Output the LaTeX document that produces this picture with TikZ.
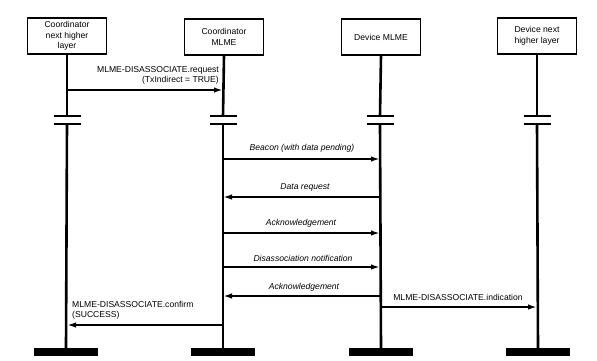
\documentclass[tikz,border=0pt]{standalone}
\usepackage{fontspec}
\setmainfont{Liberation Sans}
\usetikzlibrary{arrows.meta}
\begin{document}
\begin{tikzpicture}[x=1pt,y=-1pt,
  entity/.style={draw, line width=1.4pt, minimum width=79pt, minimum height=36pt, align=center,
    font=\fontsize{8.6}{10.5}\selectfont, inner sep=1pt, fill=white},
  life/.style={line width=2.6pt},
  brk/.style={line width=2.4pt},
  msg/.style={line width=1.8pt, -{Latex[length=9pt,width=5.5pt]}},
  lbl/.style={font=\fontsize{8.6}{10}\selectfont, inner sep=0pt},
  ilbl/.style={font=\fontsize{8.6}{10}\selectfont\itshape, inner sep=0pt},
  foot/.style={fill=black, minimum width=64pt, minimum height=8pt, inner sep=0pt}]
\useasboundingbox (0,0) rectangle (597,360);
\fill[white] (0,0) rectangle (597,360);

% entities
\node[entity] (c1) at (67,36) {Coordinator\\next higher\\layer};
\node[entity] (c2) at (224,37) {Coordinator\\MLME};
\node[entity] (d1) at (381,37) {Device MLME};
\node[entity] (d2) at (537,36) {Device next\\higher layer};

% feet
\node[foot] (f1) at (66,352) {};
\node[foot] (f2) at (223,352) {};
\node[foot] (f3) at (381,352) {};
\node[foot] (f4) at (538,352) {};

% lifelines with breaks
\foreach \n/\x/\f in {c1/67/f1, c2/223/f2, d1/380/f3, d2/537/f4}{
  \coordinate (\n-b1) at (\x,116);
  \coordinate (\n-b2) at (\x,124);
  \draw[life] (\n.south) -- (\n-b1);
  \draw[life] (\n-b2) -- (\f.north);
  \draw[brk] ([xshift=-13.5pt]\n-b1) -- ([xshift=13.5pt]\n-b1);
  \draw[brk] ([xshift=-13.5pt]\n-b2) -- ([xshift=13.5pt]\n-b2);
}

% message end points
\foreach \n/\x in {c1/67, c2/223, d1/380, d2/537}{
  \coordinate (\n-m1) at (\x,90);
  \coordinate (\n-m2) at (\x,159);
  \coordinate (\n-m3) at (\x,197);
  \coordinate (\n-m4) at (\x,233);
  \coordinate (\n-m5) at (\x,267);
  \coordinate (\n-m6) at (\x,296);
  \coordinate (\n-m7) at (\x,307);
  \coordinate (\n-m8) at (\x,325);
}

% messages
\draw[msg] (c1-m1) -- (c2-m1);
\node[lbl, align=right, anchor=east] (l1) at (219,75) {MLME-DISASSOCIATE.request\\(TxIndirect = TRUE)};

\draw[msg] (c2-m2) -- (d1-m2);
\node[ilbl] (l2) at (302,148) {Beacon (with data pending)};

\draw[msg] (d1-m3) -- (c2-m3);
\node[ilbl] (l3) at (305,187) {Data request};

\draw[msg] (c2-m4) -- (d1-m4);
\node[ilbl] (l4) at (301,223) {Acknowledgement};

\draw[msg] (c2-m5) -- (d1-m5);
\node[ilbl] (l5) at (303,258) {Disassociation notification};

\draw[msg] (d1-m6) -- (c2-m6);
\node[ilbl] (l6) at (304,287) {Acknowledgement};

\draw[msg] (d1-m7) -- (d2-m7);
\node[lbl] (l7) at (458,297) {MLME-DISASSOCIATE.indication};

\draw[msg] (c2-m8) -- (c1-m8);
\node[lbl, align=left, anchor=west] (l8) at (72,310) {MLME-DISASSOCIATE.confirm\\(SUCCESS)};
\end{tikzpicture}
\end{document}
